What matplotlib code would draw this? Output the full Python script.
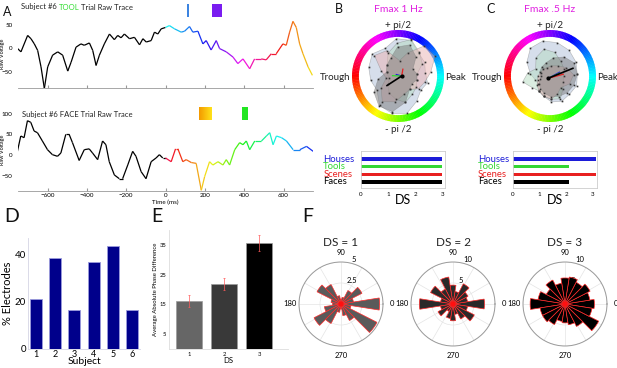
import numpy as np
import matplotlib
matplotlib.use("Agg")
import matplotlib.pyplot as plt
from matplotlib.collections import LineCollection
from matplotlib.patches import Rectangle, Wedge, Polygon
from matplotlib.colors import hsv_to_rgb

plt.rcParams['font.family'] = ['Lato', 'DejaVu Sans']

W, H = 617, 368

# --- A: raw traces (ms, raw voltage) ---
tool_time = [-752, -735, -701, -684, -667, -650, -633, -616, -599, -574, -548, -523, -497, -480,
             -455, -430, -413, -387, -370, -353, -336, -311, -285, -260, -243, -226, -209, -183,
             -158, -132, -115, -98, -73, -56, -39, -22, 0, 20, 46, 80, 97, 122, 139, 165, 190,
             207, 232, 258, 275, 309, 343, 368, 394, 428, 453, 487, 512, 538, 563, 597, 614,
             631, 648, 665, 682, 699, 725, 747]
tool_volt = [-1, -8, 27, 20, 9, -5, -40, -86, -40, -15, -8, -15, -49, -30,
             2, 9, 6, 11, -5, -37, -15, 9, 30, 18, 27, 22, 30, 20,
             23, 7, 20, 13, 16, 34, 30, 41, 44, 48, 41, 34, 36, 46, 34, 36, 9,
             16, -4, 16, -1, -8, -19, -33, -23, -44, -23, -23, -25, -12, -12, 9, 6,
             34, 57, 44, 9, -12, -40, -58]
face_time = [-753, -736, -719, -702, -685, -668, -651, -626, -600, -575, -549, -532, -507, -490,
             -473, -439, -413, -388, -371, -345, -320, -303, -286, -260, -235, -218, -192, -167,
             -150, -124, -99, -73, -48, -31, -14, 0, 29, 51, 63, 88, 105, 131, 156, 182, 199,
             224, 241, 267, 292, 309, 326, 352, 377, 394, 411, 428, 454, 488, 513, 530, 547,
             564, 590, 615, 649, 683, 717, 751]
face_volt = [9, 46, 42, 83, 79, 58, 54, 34, 13, 1, -3, 5, 50, 50,
             30, -13, 13, 15, 5, -11, 34, 25, -16, -48, -57, -57, -24, 9,
             -3, -40, -57, -16, -7, 1, -7, -7, -16, 15, 15, -16, -11, -18, -20, -85, -52,
             -16, -24, -16, -24, -11, -24, 13, 30, 25, 34, 13, 34, 34, 46, 54, 25,
             46, 42, 34, 13, 13, 21, 9]
tool_marks = [(110, 119), (234, 285)]
tool_mark_colors = ['#3c84e0', '#7a1cf0']
face_marks = [(168, 234), (387, 418)]

# --- B / C: phase polygons and decoding scores ---
categories = ['Houses', 'Tools', 'Scenes', 'Faces']
cat_colors = ['#1c1cd8', '#33d633', '#e82020', '#000000']
poly_fill = ['#aebfd8', '#b6dcc2', '#eab2b2', '#7c7c7c']
ds_b = [3.0, 3.0, 3.0, 3.0]
ds_c = [3.1, 2.1, 3.1, 2.1]
poly_r_b = [
    [0.52, 0.58, 0.62, 0.80, 0.82, 0.70, 0.80, 0.74, 0.68, 0.62, 0.80, 0.84, 0.82, 0.64, 0.52, 0.58],
    [0.34, 0.52, 0.64, 0.82, 0.72, 0.58, 0.40, 0.34, 0.28, 0.34, 0.46, 0.52, 0.58, 0.46, 0.40, 0.34],
    [0.64, 0.84, 0.82, 0.52, 0.34, 0.64, 0.74, 0.46, 0.34, 0.52, 0.70, 0.58, 0.40, 0.34, 0.46, 0.52],
    [0.34, 0.28, 0.52, 0.70, 0.64, 0.46, 0.40, 0.34, 0.52, 0.70, 0.82, 0.80, 0.58, 0.34, 0.28, 0.34],
]
poly_r_c = [
    [0.64, 0.70, 0.76, 0.80, 0.82, 0.76, 0.58, 0.40, 0.28, 0.25, 0.34, 0.40, 0.52, 0.58, 0.58, 0.64],
    [0.34, 0.40, 0.46, 0.58, 0.64, 0.52, 0.34, 0.46, 0.56, 0.40, 0.34, 0.40, 0.46, 0.52, 0.40, 0.34],
    [0.56, 0.46, 0.34, 0.28, 0.23, 0.23, 0.20, 0.23, 0.23, 0.28, 0.34, 0.40, 0.46, 0.40, 0.34, 0.48],
    [0.64, 0.66, 0.58, 0.46, 0.34, 0.28, 0.23, 0.17, 0.17, 0.23, 0.28, 0.34, 0.40, 0.46, 0.52, 0.58],
]
vec_ang_b = [165, 178, 80, 213]
vec_len_b = [0.12, 0.20, 0.15, 0.38]
vec_ang_c = [28, 24, 15, 22]
vec_len_c = [0.28, 0.27, 0.34, 0.58]

# --- D ---
subjects = [1, 2, 3, 4, 5, 6]
pct_electrodes = [21, 38.5, 16.7, 37, 43.5, 16.7]

# --- E ---
ds_levels = [1, 2, 3]
phase_diff = [16, 22, 35.7]
phase_err = [2, 2, 2.7]
e_colors = ['#666666', '#393939', '#000000']

# --- F: rose histograms (bin centres every 18 deg) ---
rose_ds1 = [4.6, 1.5, 2.8, 1.8, 0.8, 0.6, 1.0, 2.6, 3.2, 1.2, 1.0, 2.0, 3.6, 2.6, 1.0, 0.6, 1.4, 2.2, 4.8, 1.2]
rose_ds2 = [7.5, 3.5, 4.0, 5.4, 3.0, 4.5, 6.5, 4.0, 6.0, 3.0, 8.0, 3.0, 4.0, 2.0, 3.5, 4.0, 2.5, 4.0, 5.7, 3.5]
rose_ds3 = [7.0, 6.0, 6.7, 5.8, 6.5, 6.2, 5.0, 6.4, 5.0, 6.5, 8.3, 6.0, 6.0, 5.5, 4.2, 4.5, 5.0, 6.0, 9.0, 6.5]


def px_axes(fig, x0, y0, x1, y1, **kw):
    return fig.add_axes([x0 / W, 1 - y1 / H, (x1 - x0) / W, (y1 - y0) / H], **kw)


def multicolor(fig, x, y, parts, **kw):
    r = fig.canvas.get_renderer()
    for s, c in parts:
        t = fig.text(x / W, 1 - y / H, s, color=c, va='center', **kw)
        x += t.get_window_extent(r).width


def trace(ax, t, v, hue0, hue_span):
    t = np.asarray(t, float)
    v = np.asarray(v, float)
    pts = np.column_stack([t, v])
    segs = np.stack([pts[:-1], pts[1:]], axis=1)
    cols = []
    for a, b in zip(t[:-1], t[1:]):
        if b <= 0:
            cols.append((0, 0, 0))
        else:
            h = (hue0 + max(a, 0) / 750 * hue_span) % 1
            cols.append(hsv_to_rgb((h, 0.9, 0.95)))
    ax.add_collection(LineCollection(segs, colors=cols, linewidths=0.9))
    ax.set_xlim(-750, 750)
    for s in ['top', 'right', 'left']:
        ax.spines[s].set_visible(False)
    ax.spines['bottom'].set_color('#999999')
    ax.spines['bottom'].set_linewidth(0.6)
    ax.set_xticks(range(-600, 601, 200))
    ax.tick_params(axis='x', direction='in', length=2, color='#999999', labelsize=4.5, pad=2)
    ax.tick_params(axis='y', length=0, labelsize=4.5, pad=4)
    ax.set_ylabel('Raw Voltage', fontsize=4, labelpad=0)
    ax.yaxis.set_label_coords(-13 / 295, 0.5)


def phase_panel(fig, cx, cy, polys, vang, vlen, off):
    ax = px_axes(fig, cx - 46, cy - 46, cx + 46, cy + 46)
    ax.set_xlim(-1, 1)
    ax.set_ylim(-1, 1)
    ax.set_aspect('equal')
    ax.axis('off')
    n = 180
    for i in range(n):
        a0 = 360 * i / n
        a1 = 360 * (i + 1) / n + 0.6
        h = (0.5 + (a0 + a1) / 720) % 1
        ax.add_patch(Wedge((0, 0), 1.0, a0, a1, width=0.15, color=hsv_to_rgb((h, 1, 1)), lw=0))
    ang = np.deg2rad(np.arange(16) * 22.5 + 8)
    for r, fc in zip(polys, poly_fill):
        r = np.asarray(r)
        xy = np.column_stack([off[0] + r * np.cos(ang), off[1] + r * np.sin(ang)])
        ax.add_patch(Polygon(xy, closed=True, facecolor=fc, alpha=0.5, edgecolor='#777777', lw=0.4))
        ax.plot(xy[:, 0], xy[:, 1], 's', ms=1.2, color='#333333', mec='none')
    for a, l, c in zip(vang, vlen, cat_colors):
        a = np.deg2rad(a)
        lw = 1.2 if c == '#000000' else 0.9
        ax.plot([off[0], off[0] + l * np.cos(a)], [off[1], off[1] + l * np.sin(a)], color=c, lw=lw)
    ax.plot([off[0]], [off[1]], 'o', ms=2, color='k')
    return ax


def ds_bars(fig, x0, x1, vals, xmax, label_x):
    ax = px_axes(fig, x0, 151, x1, 188)
    ypos = [3, 2, 1, 0]
    ax.barh(ypos, vals, height=0.46, color=cat_colors)
    ax.set_ylim(-0.8, 4.05)
    ax.set_xlim(0, xmax)
    ax.set_yticks([])
    ax.set_xticks([0, 1, 2, 3])
    ax.tick_params(axis='x', length=0, labelsize=4.5, pad=3)
    for s in ax.spines.values():
        s.set_color('#cccccc')
        s.set_linewidth(0.6)
    ax.set_xlabel('DS', fontsize=9, labelpad=-2)
    for name, c, y in zip(categories, cat_colors, ypos):
        ax.text(label_x, y, name, color=c, fontsize=6.8, va='center', ha='left',
                transform=ax.get_yaxis_transform(), clip_on=False)
    return ax


def rose(fig, cx, cy, counts, rmax, rticks, color, title):
    ax = px_axes(fig, cx - 42, cy - 42, cx + 42, cy + 42, projection='polar')
    theta = np.deg2rad(np.arange(0, 360, 18))
    ax.bar(theta, counts, width=np.deg2rad(18), color=color, edgecolor='#ff2a2a', linewidth=0.5, zorder=3)
    ax.scatter([0], [0], s=14, color='#ff1010', zorder=4, edgecolors='none')
    ax.set_ylim(0, rmax)
    ax.set_yticks(rticks)
    ax.set_yticklabels([('%g' % v) for v in rticks], fontsize=5.5)
    ax.set_rlabel_position(75)
    ax.set_thetagrids(range(0, 360, 30), labels=['0', '', '', '90', '', '', '180', '', '', '270', '', ''],
                      fontsize=5.5)
    ax.tick_params(axis='x', pad=-4)
    ax.grid(color='#e4e4e4', lw=0.5)
    ax.spines['polar'].set_color('#9a9a9a')
    ax.spines['polar'].set_linewidth(0.7)
    fig.text(cx / W, 1 - 242 / H, title, fontsize=8.5, color='#222222', ha='center', va='center')
    return ax


fig = plt.figure(figsize=(W / 100, H / 100), dpi=100)

# A
ax_t = px_axes(fig, 18, 19, 313, 88)
trace(ax_t, tool_time, tool_volt, 0.5, 0.67)
ax_t.set_ylim(-85, 62)
ax_t.set_yticks([-50, 0, 50])
ax_t.set_xticklabels([])
for (a, b), c in zip(tool_marks, tool_mark_colors):
    ax_t.add_patch(Rectangle((a, 66), b - a, 28, color=c, clip_on=False, lw=0))
multicolor(fig, 21, 7, [('Subject #6 ', '#222222'), ('TOOL', '#33dd33'), (' Trial Raw Trace', '#222222')],
           fontsize=5.5)

ax_f = px_axes(fig, 18, 109.5, 313, 190.7)
trace(ax_f, face_time, face_volt, 0.96, 0.72)
ax_f.set_ylim(-86, 110)
ax_f.set_yticks([-50, 0, 50, 100])
ax_f.set_xlabel('Time (ms)', fontsize=4.5, labelpad=1)
grad = np.linspace(0, 1, 32)[None, :]
a, b = face_marks[0]
ax_f.imshow(grad, cmap=matplotlib.colors.LinearSegmentedColormap.from_list('oy', ['#f49a00', '#ffe21a']),
            extent=(a, b, 85, 116), aspect='auto', clip_on=False, zorder=3)
a, b = face_marks[1]
ax_f.add_patch(Rectangle((a, 85), b - a, 31, color='#22e622', clip_on=False, lw=0))
ax_f.set_xlim(-750, 750)
ax_f.set_ylim(-86, 110)
fig.text(22 / W, 1 - 115 / H, 'Subject #6 FACE Trial Raw Trace', fontsize=5.5, color='#222222', va='center')

# B and C
phase_panel(fig, 398, 76, poly_r_b, vec_ang_b, vec_len_b, (0.08, 0.0))
phase_panel(fig, 550, 76, poly_r_c, vec_ang_c, vec_len_c, (-0.04, -0.05))
for cx, title, tx, px_ in [(398, 'Fmax 1 Hz', 335, 455), (550, 'Fmax .5 Hz', 487, 608)]:
    fig.text(cx / W, 1 - 10 / H, title, color='#e020e0', fontsize=7.5, ha='center', va='center')
    fig.text(cx / W, 1 - 25 / H, '+ pi/2', color='#222222', fontsize=7, ha='center', va='center')
    fig.text(cx / W, 1 - 130 / H, '- pi /2', color='#222222', fontsize=7, ha='center', va='center')
    fig.text(tx / W, 1 - 78 / H, 'Trough', color='#222222', fontsize=7, ha='center', va='center')
    fig.text(px_ / W, 1 - 78 / H, 'Peak', color='#222222', fontsize=7, ha='center', va='center')
ds_bars(fig, 361, 445, ds_b, 3.1, -0.45)
ds_bars(fig, 513, 597, ds_c, 3.15, -0.42)

# D
ax_d = px_axes(fig, 28, 238, 140, 349)
ax_d.bar(subjects, pct_electrodes, width=0.62, color='#00008b', edgecolor='#9b9bdc', linewidth=0.6)
ax_d.set_xlim(0.58, 6.42)
ax_d.set_ylim(0, 47)
ax_d.set_yticks([0, 20, 40])
ax_d.set_xticks(subjects)
ax_d.tick_params(axis='y', length=0, labelsize=7, pad=1.5)
ax_d.tick_params(axis='x', length=0, labelsize=6.5, pad=0.5)
ax_d.set_ylabel('% Electrodes', fontsize=8, labelpad=1)
ax_d.set_xlabel('Subject', fontsize=7.5, labelpad=-1)
for s in ['top', 'right']:
    ax_d.spines[s].set_visible(False)
for s in ['left', 'bottom']:
    ax_d.spines[s].set_color('#d4d4e4')
    ax_d.spines[s].set_linewidth(0.6)

# E
ax_e = px_axes(fig, 169, 230, 288, 349)
ax_e.bar(ds_levels, phase_diff, width=0.74, color=e_colors, edgecolor='#9a9a9a', linewidth=0.5)
ax_e.errorbar(ds_levels, phase_diff, yerr=phase_err, fmt='none', ecolor='#ff5a5a', elinewidth=0.5,
              capsize=0.8, capthick=0.5)
ax_e.set_xlim(0.43, 3.83)
ax_e.set_ylim(0, 40)
ax_e.set_yticks([5, 15, 25, 35])
ax_e.set_xticks(ds_levels)
ax_e.tick_params(length=0, labelsize=4.2, pad=2)
ax_e.set_ylabel('Average Absolute Phase Difference', fontsize=4.3, labelpad=1)
ax_e.set_xlabel('DS', fontsize=5.5, labelpad=0)
for s in ['top', 'right']:
    ax_e.spines[s].set_visible(False)
for s in ['left', 'bottom']:
    ax_e.spines[s].set_color('#dddddd')
    ax_e.spines[s].set_linewidth(0.6)

# F
rose(fig, 341, 304, rose_ds1, 5, [2.5, 5], '#5a5a5a', 'DS = 1')
rose(fig, 453, 304, rose_ds2, 10, [5, 10], '#2a2a2a', 'DS = 2')
rose(fig, 565, 304, rose_ds3, 10, [5, 10], '#000000', 'DS = 3')

# panel letters
for letter, x, y, fs in [('A', 3, 12, 9), ('B', 335, 9, 9), ('C', 486, 9, 9),
                         ('D', 4, 217, 14), ('E', 151, 217, 14), ('F', 302, 217, 14)]:
    fig.text(x / W, 1 - y / H, letter, fontsize=fs, va='center', ha='left', color='#111111')

fig.savefig('out.png', dpi=100)
